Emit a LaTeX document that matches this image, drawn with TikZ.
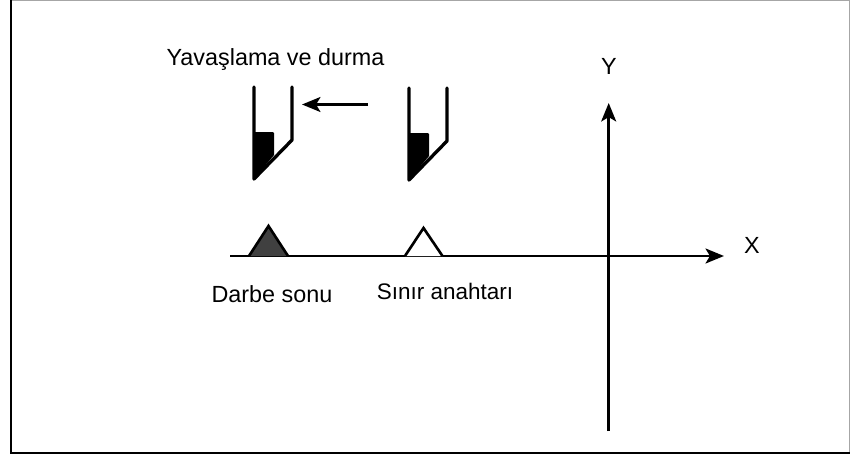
\documentclass[tikz,border=0pt]{standalone}
\usepackage{fontspec}
\setmainfont{Liberation Sans}
\usepackage{tikz}
\usetikzlibrary{arrows.meta}
\definecolor{dogfill}{HTML}{404040}
\tikzset{
	axisline/.style={line width=1.6pt, -{Stealth[length=10.5pt, width=8.5pt, inset=2.5pt]}},
	toolline/.style={line width=1.9pt, line cap=round, line join=round},
	dogshape/.style={line width=1.5pt, line join=miter},
	lbl/.style={inner sep=0pt, anchor=base, font=\fontsize{13.3}{15}\selectfont}
}
\begin{document}
\begin{tikzpicture}[x=0.02cm, y=-0.02cm]
	\useasboundingbox (0,0) rectangle (850,454);
	% Rahmen
	\draw[line width=0.6pt, black!35] (11,0.6) -- (849.4,0.6) -- (849.4,453);
	\draw[line width=1.3pt] (11.3,0) -- (11.3,452.8) -- (850,452.8);
	
	% Achsen
	\coordinate (xstart) at (230,256);
	\coordinate (xend) at (724,256);
	\coordinate (ystart) at (608.7,431);
	\coordinate (yend) at (608.7,103);
	\draw[axisline] (xstart) -- (xend);
	\draw[axisline] (ystart) -- (yend);
	\node[lbl] (xlabel) at (752,253) {X};
	\node[lbl] (ylabel) at (609,74) {Y};
	
	% Nocken
	\draw[dogshape, fill=dogfill] (249,256) -- (268.5,226) -- (288,256);
	\draw[dogshape, fill=white] (405,256) -- (423.5,228) -- (442.5,256);
	\node[lbl] (endlabel) at (272,302) {Darbe sonu};
	\node[lbl, font=\fontsize{12.8}{15}\selectfont] (switchlabel) at (445,299) {Sınır anahtarı};
	
	% Werkzeuge
	\foreach \toolname/\xs/\ys in {left/254/87, right/409/88}{
		\begin{scope}[xshift=\xs*0.02cm, yshift=-\ys*0.02cm]
			\fill (0,45) -- (19,45) -- (20,46) -- (20,68) -- (0,92) -- cycle;
			\draw[toolline] (0,0) -- (0,92) -- (38,53) -- (38,0);
		\end{scope}
	}
	
	% Bewegung
	\coordinate (movestart) at (368,104.5);
	\coordinate (moveend) at (302,104.5);
	\draw[axisline] (movestart) -- (moveend);
	\node[lbl] (movelabel) at (275.5,65) {Yavaşlama ve durma};
\end{tikzpicture}
\end{document}
